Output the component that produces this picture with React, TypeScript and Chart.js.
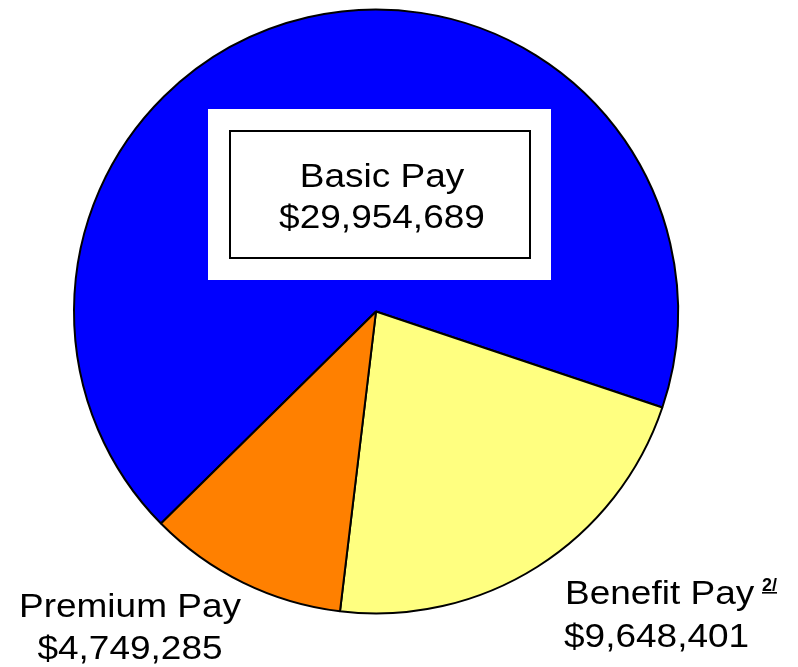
import React, { useEffect, useRef } from "react";
import { Chart, registerables } from "chart.js";

Chart.register(...registerables);

const categories = ["Basic Pay", "Benefit Pay", "Premium Pay"];
const amounts = [29954689, 9648401, 4749285];
const amountLabels = ["$29,954,689", "$9,648,401", "$4,749,285"];
const sliceColors = ["#0000FF", "#FFFF80", "#FF8000"];
const footnote = "2/";

const FONT = "'Liberation Sans', Arial, sans-serif";

function drawLine(ctx: CanvasRenderingContext2D, text: string, x: number, y: number, align: CanvasTextAlign) {
  ctx.save();
  ctx.translate(x, y);
  ctx.scale(1, 0.92);
  ctx.textAlign = align;
  ctx.textBaseline = "alphabetic";
  ctx.fillText(text, 0, 0);
  ctx.restore();
}

const labelPlugin = {
  id: "payLabels",
  afterDraw(chart: any) {
    const ctx: CanvasRenderingContext2D = chart.ctx;
    ctx.save();
    // Basic Pay box
    ctx.fillStyle = "#FFFFFF";
    ctx.fillRect(208, 109, 343, 171);
    ctx.strokeStyle = "#000000";
    ctx.lineWidth = 2;
    ctx.strokeRect(230, 131, 300, 127);
    ctx.fillStyle = "#000000";
    ctx.font = `37px ${FONT}`;
    drawLine(ctx, categories[0], 382, 187, "center");
    drawLine(ctx, amountLabels[0], 382, 228, "center");
    // Benefit Pay
    drawLine(ctx, categories[1], 565, 604, "left");
    drawLine(ctx, amountLabels[1], 564, 647, "left");
    ctx.font = `bold 18px ${FONT}`;
    ctx.textAlign = "left";
    ctx.fillText(footnote, 762, 591);
    const w = ctx.measureText(footnote).width;
    ctx.fillRect(762, 592, w, 1.6);
    // Premium Pay
    ctx.font = `37px ${FONT}`;
    drawLine(ctx, categories[2], 130, 617, "center");
    drawLine(ctx, amountLabels[2], 130, 659, "center");
    ctx.restore();
  },
};

export default function App() {
  const ref = useRef<HTMLCanvasElement>(null);
  useEffect(() => {
    if (!ref.current) return;
    const chart = new Chart(ref.current, {
      type: "pie",
      data: {
        labels: categories,
        datasets: [
          {
            data: amounts,
            backgroundColor: sliceColors,
            borderColor: "#000000",
            borderWidth: 2,
            hoverOffset: 0,
          },
        ],
      },
      options: {
        animation: false,
        responsive: false,
        devicePixelRatio: 1,
        rotation: 225.4,
        radius: 302,
        layout: { padding: { left: 0, right: 46, top: 0, bottom: 44 } },
        plugins: {
          legend: { display: false },
          tooltip: { enabled: false },
        },
        events: [],
      },
      plugins: [labelPlugin],
    });
    return () => chart.destroy();
  }, []);
  return (
    <div style={{ position: "fixed", left: 0, top: 0, width: 798, height: 667, background: "#FFFFFF" }}>
      <canvas ref={ref} width={798} height={667} style={{ width: 798, height: 667 }} />
    </div>
  );
}
